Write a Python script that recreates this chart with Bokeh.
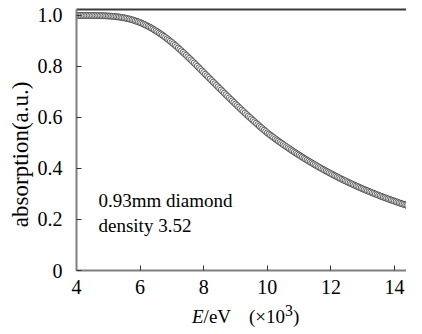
from bokeh.plotting import figure
from bokeh.models import Range1d, FixedTicker, LinearAxis, Label, ColumnDataSource, Div
from bokeh.layouts import column
from bokeh.embed import file_html
from bokeh.resources import INLINE

energy_kev = [
    4.00, 4.05, 4.10, 4.15, 4.20, 4.25, 4.30, 4.35, 4.40, 4.45,
    4.50, 4.55, 4.60, 4.65, 4.70, 4.75, 4.80, 4.85, 4.90, 4.95,
    5.00, 5.05, 5.10, 5.15, 5.20, 5.25, 5.30, 5.35, 5.40, 5.45,
    5.50, 5.55, 5.60, 5.65, 5.70, 5.75, 5.80, 5.85, 5.90, 5.95,
    6.00, 6.05, 6.10, 6.15, 6.20, 6.25, 6.30, 6.35, 6.40, 6.45,
    6.50, 6.55, 6.60, 6.65, 6.70, 6.75, 6.80, 6.85, 6.90, 6.95,
    7.00, 7.05, 7.10, 7.15, 7.20, 7.25, 7.30, 7.35, 7.40, 7.45,
    7.50, 7.55, 7.60, 7.65, 7.70, 7.75, 7.80, 7.85, 7.90, 7.95,
    8.00, 8.05, 8.10, 8.15, 8.20, 8.25, 8.30, 8.35, 8.40, 8.45,
    8.50, 8.55, 8.60, 8.65, 8.70, 8.75, 8.80, 8.85, 8.90, 8.95,
    9.00, 9.05, 9.10, 9.15, 9.20, 9.25, 9.30, 9.35, 9.40, 9.45,
    9.50, 9.55, 9.60, 9.65, 9.70, 9.75, 9.80, 9.85, 9.90, 9.95,
    10.00, 10.05, 10.10, 10.15, 10.20, 10.25, 10.30, 10.35, 10.40, 10.45,
    10.50, 10.55, 10.60, 10.65, 10.70, 10.75, 10.80, 10.85, 10.90, 10.95,
    11.00, 11.05, 11.10, 11.15, 11.20, 11.25, 11.30, 11.35, 11.40, 11.45,
    11.50, 11.55, 11.60, 11.65, 11.70, 11.75, 11.80, 11.85, 11.90, 11.95,
    12.00, 12.05, 12.10, 12.15, 12.20, 12.25, 12.30, 12.35, 12.40, 12.45,
    12.50, 12.55, 12.60, 12.65, 12.70, 12.75, 12.80, 12.85, 12.90, 12.95,
    13.00, 13.05, 13.10, 13.15, 13.20, 13.25, 13.30, 13.35, 13.40, 13.45,
    13.50, 13.55, 13.60, 13.65, 13.70, 13.75, 13.80, 13.85, 13.90, 13.95,
    14.00, 14.05, 14.10, 14.15, 14.20, 14.25, 14.30, 14.35, 14.40, 14.45,
    14.50, 14.55, 14.60, 14.65, 14.70, 14.75, 14.80, 14.85, 14.90, 14.95,
    15.00,
]

absorption = [
    1.0000, 1.0000, 1.0000, 1.0000, 1.0000, 1.0000, 0.9999, 0.9999, 0.9999, 0.9999,
    0.9998, 0.9998, 0.9997, 0.9996, 0.9995, 0.9993, 0.9992, 0.9990, 0.9987, 0.9984,
    0.9981, 0.9977, 0.9972, 0.9967, 0.9961, 0.9954, 0.9946, 0.9938, 0.9929, 0.9918,
    0.9907, 0.9894, 0.9880, 0.9865, 0.9848, 0.9831, 0.9812, 0.9791, 0.9769, 0.9746,
    0.9722, 0.9696, 0.9668, 0.9639, 0.9609, 0.9577, 0.9544, 0.9510, 0.9473, 0.9436,
    0.9397, 0.9357, 0.9315, 0.9273, 0.9229, 0.9183, 0.9137, 0.9089, 0.9040, 0.8990,
    0.8939, 0.8887, 0.8834, 0.8780, 0.8725, 0.8669, 0.8613, 0.8555, 0.8497, 0.8438,
    0.8379, 0.8319, 0.8258, 0.8197, 0.8136, 0.8074, 0.8012, 0.7949, 0.7886, 0.7823,
    0.7760, 0.7698, 0.7636, 0.7574, 0.7512, 0.7450, 0.7388, 0.7326, 0.7264, 0.7202,
    0.7139, 0.7078, 0.7016, 0.6954, 0.6893, 0.6831, 0.6770, 0.6709, 0.6649, 0.6588,
    0.6528, 0.6468, 0.6409, 0.6349, 0.6290, 0.6232, 0.6173, 0.6115, 0.6058, 0.6001,
    0.5944, 0.5887, 0.5831, 0.5775, 0.5720, 0.5665, 0.5611, 0.5557, 0.5503, 0.5450,
    0.5397, 0.5350, 0.5303, 0.5257, 0.5211, 0.5165, 0.5119, 0.5074, 0.5030, 0.4986,
    0.4942, 0.4898, 0.4855, 0.4812, 0.4770, 0.4728, 0.4686, 0.4645, 0.4605, 0.4564,
    0.4524, 0.4484, 0.4445, 0.4406, 0.4368, 0.4329, 0.4291, 0.4254, 0.4217, 0.4180,
    0.4144, 0.4108, 0.4072, 0.4037, 0.4002, 0.3967, 0.3932, 0.3899, 0.3865, 0.3832,
    0.3798, 0.3766, 0.3733, 0.3701, 0.3670, 0.3638, 0.3607, 0.3576, 0.3546, 0.3516,
    0.3486, 0.3456, 0.3427, 0.3398, 0.3370, 0.3341, 0.3313, 0.3285, 0.3258, 0.3230,
    0.3203, 0.3177, 0.3150, 0.3124, 0.3098, 0.3073, 0.3047, 0.3022, 0.2997, 0.2972,
    0.2948, 0.2924, 0.2900, 0.2876, 0.2853, 0.2830, 0.2807, 0.2784, 0.2761, 0.2739,
    0.2717, 0.2695, 0.2674, 0.2652, 0.2631, 0.2610, 0.2589, 0.2569, 0.2549, 0.2528,
    0.2508, 0.2489, 0.2469, 0.2450, 0.2431, 0.2412, 0.2393, 0.2374, 0.2356, 0.2338,
    0.2320,
]

x_ticks = [4, 6, 8, 10, 12, 14]
y_ticks = [0, 0.2, 0.4, 0.6, 0.8, 1.0]
y_tick_labels = ["0", "0.2", "0.4", "0.6", "0.8", "1.0"]

annotation_lines = ["0.93mm diamond", "density 3.52"]
y_title = "absorption(a.u.)"
x_title_html = ("<i>E</i>/eV<span style='margin-left:18px'>(\u00d710<sup>3</sup>)</span>")

FONT = "'Liberation Serif', 'Times New Roman', serif"
CSS_FONT = "'Liberation Serif', 'Times New Roman', serif"

source = ColumnDataSource(data=dict(x=energy_kev, y=absorption))

p = figure(
    width=406, height=304,
    x_range=Range1d(4, 14.377), y_range=Range1d(0, 1.0235),
    output_backend="svg", toolbar_location=None,
    min_border_left=76, min_border_right=0, min_border_top=9, min_border_bottom=34,
)
p.outline_line_color = None
p.xgrid.visible = False
p.ygrid.visible = False
p.background_fill_color = "white"
p.border_fill_color = "white"

p.scatter("x", "y", source=source, marker="circle", size=6,
          fill_color="white", line_color="#404040", line_width=0.85)

for ax in (p.xaxis[0], p.yaxis[0]):
    ax.axis_line_color = "#7f7f7f"
    ax.axis_line_width = 2
    ax.major_tick_line_color = "#333333"
    ax.major_tick_line_width = 1
    ax.major_tick_in = 5
    ax.major_tick_out = 0
    ax.minor_tick_line_color = None
    ax.major_label_text_font = FONT
    ax.major_label_text_font_size = "20px"
    ax.major_label_text_color = "black"

p.xaxis[0].ticker = FixedTicker(ticks=x_ticks)
p.xaxis[0].major_label_standoff = 9
p.yaxis[0].ticker = FixedTicker(ticks=y_ticks)
p.yaxis[0].major_label_overrides = {t: l for t, l in zip(y_ticks, y_tick_labels)}
p.yaxis[0].major_label_standoff = 14

# y title as the axis label; trailing no-break spaces move the visible text down a bit
p.yaxis[0].axis_label = y_title + "\u00a0" * 5
p.yaxis[0].axis_label_text_font = FONT
p.yaxis[0].axis_label_text_font_size = "23px"
p.yaxis[0].axis_label_text_font_style = "normal"
p.yaxis[0].axis_label_text_color = "black"
p.yaxis[0].axis_label_standoff = 2

top = LinearAxis(ticker=FixedTicker(ticks=[]))
top.axis_line_color = "#3a3a3a"
top.axis_line_width = 2
top.major_tick_line_color = None
top.minor_tick_line_color = None
top.major_label_text_font_size = "0px"
top.major_label_standoff = 0
p.add_layout(top, "above")

# Label screen coordinates are measured from the frame's bottom-left corner.
for i, line in enumerate(annotation_lines):
    p.add_layout(Label(text=line, x=22, y=70 - 25 * i, x_units="screen", y_units="screen",
                       text_font=FONT, text_font_size="19px", text_color="black",
                       text_baseline="alphabetic"))

x_title = Div(
    text=x_title_html, width=406, height=14, margin=0,
    styles={"font-family": CSS_FONT, "font-size": "19px", "line-height": "14px",
            "padding-left": "192px", "white-space": "nowrap", "color": "black"},
)

layout = column(p, x_title, spacing=0)

open("out.html", "w").write(file_html(layout, INLINE))
